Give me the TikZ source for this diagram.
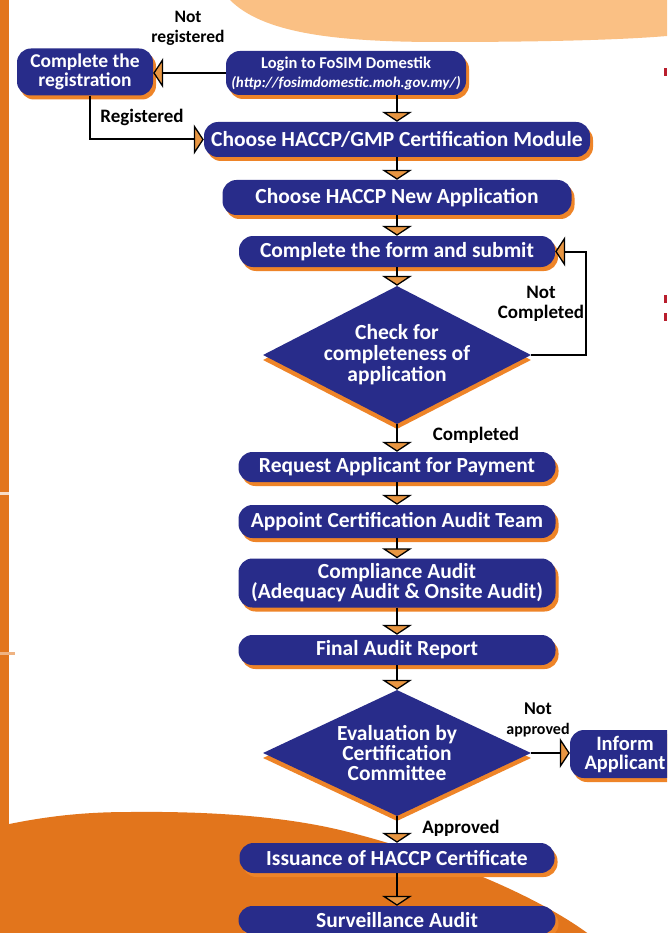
\documentclass[tikz,border=0pt]{standalone}
\usepackage{fontspec}
\setmainfont{Carlito}
\usetikzlibrary{arrows.meta,shapes.geometric,shadows}
\definecolor{navy}{RGB}{40,44,138}
\definecolor{shadoworange}{RGB}{238,132,40}
\definecolor{barorange}{RGB}{226,117,28}
\definecolor{peach}{RGB}{250,192,132}
\definecolor{tipfill}{RGB}{232,150,66}
\definecolor{markred}{RGB}{185,30,45}
\newcommand{\fsz}[2]{\fontsize{#1}{#2}\selectfont}
\begin{document}
\begin{tikzpicture}[x=1pt,y=-1pt,
  box/.style={rectangle, rounded corners=14pt, fill=navy, text=white,
    font=\bfseries\fsz{21.5}{20}, align=center, inner sep=0pt,
    drop shadow={shadow xshift=3pt, shadow yshift=-4pt, fill=shadoworange, opacity=1}},
  dia/.style={diamond, aspect=2, fill=navy, text=white,
    font=\bfseries\fsz{21.5}{21}, align=center, inner sep=0pt,
    drop shadow={shadow xshift=0pt, shadow yshift=-5pt, fill=shadoworange, opacity=1}},
  lbl/.style={font=\bfseries\fsz{19}{20}, align=center, text=black, inner sep=0pt},
  conn/.style={draw=black, line width=2pt,
    -{Triangle[width=30pt,length=10pt,line width=1.3pt,fill=tipfill]}},
]
\useasboundingbox (0,0) rectangle (667,933);
\clip (0,0) rectangle (667,933);
\fill[white] (0,0) rectangle (667,933);
% background decoration
\fill[peach] (230,0) .. controls (262,32) and (330,42) .. (440,42)
  .. controls (540,42) and (620,40) .. (667,36) -- (667,0) -- cycle;
\fill[barorange] (0,0) rectangle (9,830);
\fill[barorange] (0,826) .. controls (50,815) and (90,812) .. (130,812)
  .. controls (220,811) and (290,818) .. (340,830)
  .. controls (420,849) and (530,890) .. (590,935) -- (0,935) -- cycle;
\fill[white!75!barorange] (0,492) rectangle (9,494.5);
\fill[barorange!55!white] (0,652) rectangle (15,654.5);
\fill[markred] (664,68) rectangle (667,76);
\fill[markred] (664,295) rectangle (667,303);
\fill[markred] (664,313) rectangle (667,321);

% nodes
\node[box, font=\bfseries\fsz{19.5}{19}, minimum width=136pt, minimum height=47pt] (reg) at (85,72) {Complete the\\registration};
\node[box, font=\bfseries\fsz{16.5}{19}, minimum width=240pt, minimum height=44pt] (login) at (346,73)
  {Login to FoSIM Domestik\\\fsz{15}{19}\textit{(http://fosimdomestic.moh.gov.my/)}};
\node[box, minimum width=386pt, minimum height=35pt] (choose) at (397,139.5) {Choose HACCP/GMP Certification Module};
\node[box, minimum width=349pt, minimum height=35pt] (newapp) at (397,197.5) {Choose HACCP New Application};
\node[box, minimum width=316pt, minimum height=31pt] (form) at (397,251.5) {Complete the form and submit};
\node[dia, minimum width=268pt, minimum height=138pt] (check) at (397,355) {Check for\\completeness of\\application};
\node[box, minimum width=317pt, minimum height=30pt] (request) at (397,467) {Request Applicant for Payment};
\node[box, minimum width=317pt, minimum height=33pt] (appoint) at (397,521.5) {Appoint Certification Audit Team};
\node[box, minimum width=317pt, minimum height=49pt] (compliance) at (397,583) {Compliance Audit\\(Adequacy Audit \& Onsite Audit)};
\node[box, minimum width=317pt, minimum height=30pt] (final) at (397,650) {Final Audit Report};
\node[dia, font=\bfseries\fsz{21.5}{20}, minimum width=268pt, minimum height=126pt] (eval) at (397,753) {Evaluation by\\Certification\\Committee};
\node[box, font=\bfseries\fsz{20.5}{19}, minimum width=110pt, minimum height=48pt] (inform) at (625,754) {Inform\\Applicant};
\node[box, minimum width=315pt, minimum height=30pt] (issue) at (397,858) {Issuance of HACCP Certificate};
\node[box, minimum width=317pt, minimum height=28pt] (surv) at (397,920) {Surveillance Audit};

% labels
\node[lbl, font=\bfseries\fsz{17.5}{20}] (lnotreg) at (188,28) {Not\\registered};
\node[lbl] (lreg) at (142,117) {Registered};
\node[lbl] (lnotcomp) at (541,304) {Not\\Completed};
\node[lbl] (lcomp) at (476,435) {Completed};
\node[lbl] (lappr) at (461,828) {Approved};
\node[lbl, align=center] (lnotappr) at (538,720) {\fsz{18}{15}Not\\\fsz{16}{15}approved};

% connectors
\draw[conn] (login.west) -- (login.west -| reg.east);
\draw[conn] ([xshift=5pt]reg.south) |- (choose.west);
\draw[conn] (login.south -| choose.north) -- (choose.north);
\draw[conn] (choose.south) -- (newapp.north);
\draw[conn] (newapp.south) -- (form.north);
\draw[conn] (form.south) -- (check.north);
\draw[conn] (check.east) -- ++(55,0) |- (form.east);
\draw[conn] (check.south) -- (request.north);
\draw[conn] (request.south) -- (appoint.north);
\draw[conn] (appoint.south) -- (compliance.north);
\draw[conn] (compliance.south) -- (final.north);
\draw[conn] (final.south) -- (eval.north);
\draw[conn] (eval.east) -- (eval.east -| inform.west);
\draw[conn] (eval.south) -- (issue.north);
\draw[conn] (issue.south) -- (surv.north);
\end{tikzpicture}
\end{document}
